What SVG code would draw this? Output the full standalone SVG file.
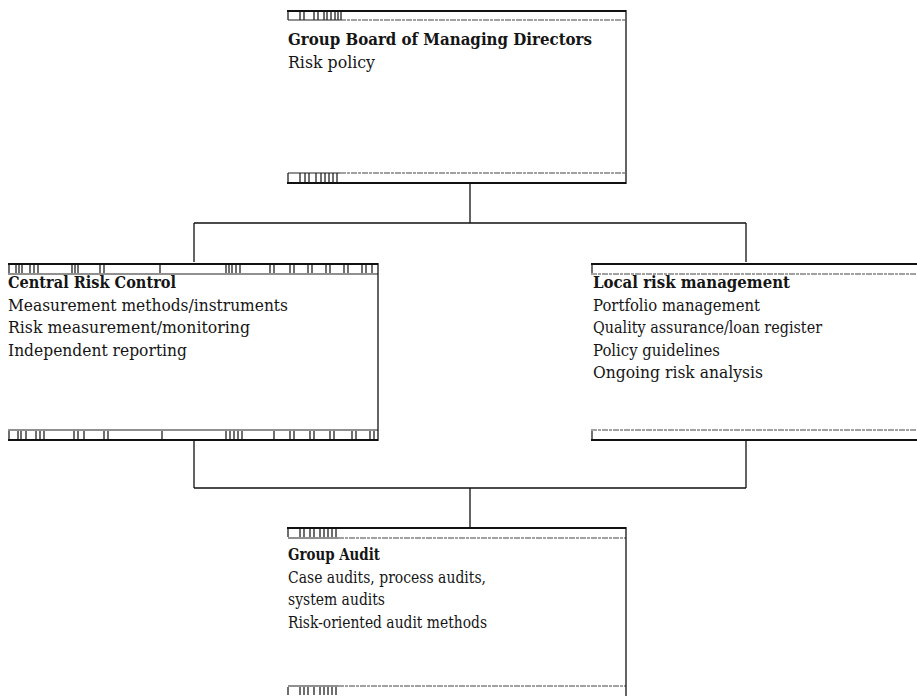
<svg xmlns="http://www.w3.org/2000/svg" width="917" height="696" viewBox="0 0 917 696">
<style>
  text { font-family: "DejaVu Serif", "Liberation Serif", serif; font-size: 16.5px; fill: #151515; }
  .t { font-weight: bold; }
  .thick { stroke: #111; stroke-width: 2; fill: none; }
  .thin { stroke: #444; stroke-width: 1; fill: none; stroke-dasharray: 6 1 3 1; }
  .cellbase { stroke: #222; stroke-width: 1.2; fill: none; }
  .cells { stroke: #222; stroke-width: 1.3; fill: none; }
  .border { stroke: #111; stroke-width: 1.3; fill: none; }
  .conn { stroke: #111; stroke-width: 1.3; fill: none; }
</style>
<rect width="917" height="696" fill="#fff"/>

<g id="connectors">
  <path class="conn" d="M470 184 V223 M194 223 H746 M194 223 V262 M746 223 V262"/>
  <path class="conn" d="M194 440 V488 M746 440 V488 M194 488 H746 M470 488 V527"/>
</g>

<g id="board">
  <path class="thick" d="M287 11 H626"/>
  <path class="thin" d="M340 20 H626"/>
  <path class="cellbase" d="M288 20 H340"/>
  <path class="cells" d="M288 12 V20 M300 12 V20 M304 12 V20 M314 12 V20 M318 12 V20 M324 12 V20 M327 12 V20 M331 12 V20 M335 12 V20 M338 12 V20 M341 12 V20"/>
  <path class="thin" d="M340 173 H626"/>
  <path class="cellbase" d="M288 173 H340"/>
  <path class="thick" d="M287 183 H626"/>
  <path class="cells" d="M288 173 V182 M300 173 V182 M305 173 V182 M309 173 V182 M316 173 V182 M321 173 V182 M325 173 V182 M329 173 V182 M333 173 V182 M337 173 V182"/>
  <path class="border" d="M626 10 V184"/>
  <text class="t" x="288" y="45" textLength="304" lengthAdjust="spacingAndGlyphs">Group Board of Managing Directors</text>
  <text x="288" y="68" textLength="87" lengthAdjust="spacingAndGlyphs">Risk policy</text>
</g>

<g id="central">
  <path class="thick" d="M8 264 H378"/>
  <path class="cellbase" d="M8 274 H378"/>
  <path class="cells" d="M9 265 V273 M16 265 V273 M19 265 V273 M22 265 V273 M30 265 V273 M34 265 V273 M38 265 V273 M72 265 V273 M75 265 V273 M78 265 V273 M100 265 V273 M104 265 V273 M160 265 V273 M226 265 V273 M229 265 V273 M232 265 V273 M236 265 V273 M240 265 V273 M270 265 V273 M274 265 V273 M290 265 V273 M294 265 V273 M308 265 V273 M312 265 V273 M326 265 V273 M330 265 V273 M344 265 V273 M348 265 V273 M362 265 V273 M366 265 V273 M372 265 V273"/>
  <path class="cellbase" d="M8 430 H378"/>
  <path class="thick" d="M8 440 H378"/>
  <path class="cells" d="M9 431 V439 M18 431 V439 M21 431 V439 M26 431 V439 M36 431 V439 M40 431 V439 M44 431 V439 M74 431 V439 M78 431 V439 M84 431 V439 M104 431 V439 M108 431 V439 M162 431 V439 M226 431 V439 M230 431 V439 M234 431 V439 M238 431 V439 M242 431 V439 M274 431 V439 M290 431 V439 M294 431 V439 M310 431 V439 M314 431 V439 M330 431 V439 M334 431 V439 M352 431 V439 M356 431 V439 M370 431 V439 M374 431 V439"/>
  <path class="border" d="M378 263 V441"/>
  <text class="t" x="8" y="288" textLength="168" lengthAdjust="spacingAndGlyphs">Central Risk Control</text>
  <text x="8" y="311" textLength="280" lengthAdjust="spacingAndGlyphs">Measurement methods/instruments</text>
  <text x="8" y="333" textLength="242" lengthAdjust="spacingAndGlyphs">Risk measurement/monitoring</text>
  <text x="8" y="356" textLength="179" lengthAdjust="spacingAndGlyphs">Independent reporting</text>
</g>

<g id="local">
  <path class="thick" d="M591 264 H917"/>
  <path class="thin" d="M591 274 H917"/>
  <path class="cells" d="M592 265 V273"/>
  <path class="thin" d="M591 430 H917"/>
  <path class="thick" d="M591 440 H917"/>
  <path class="cells" d="M592 431 V439"/>
  <text class="t" x="593" y="288" textLength="197" lengthAdjust="spacingAndGlyphs">Local risk management</text>
  <text x="593" y="311" textLength="167" lengthAdjust="spacingAndGlyphs">Portfolio management</text>
  <text x="593" y="333" textLength="229" lengthAdjust="spacingAndGlyphs">Quality assurance/loan register</text>
  <text x="593" y="356" textLength="127" lengthAdjust="spacingAndGlyphs">Policy guidelines</text>
  <text x="593" y="378" textLength="170" lengthAdjust="spacingAndGlyphs">Ongoing risk analysis</text>
</g>

<g id="audit">
  <path class="thick" d="M287 528 H626"/>
  <path class="thin" d="M338 538 H626"/>
  <path class="cellbase" d="M288 538 H338"/>
  <path class="cells" d="M288 529 V537 M300 529 V537 M304 529 V537 M310 529 V537 M314 529 V537 M320 529 V537 M324 529 V537 M328 529 V537 M332 529 V537 M336 529 V537"/>
  <path class="thin" d="M338 686 H626"/>
  <path class="cellbase" d="M288 686 H338"/>
  <path class="cells" d="M288 687 V695 M300 687 V695 M304 687 V695 M308 687 V695 M314 687 V695 M320 687 V695 M324 687 V695 M328 687 V695 M332 687 V695 M336 687 V695"/>
  <path class="border" d="M626 527 V696"/>
  <text class="t" x="288" y="560" textLength="92" lengthAdjust="spacingAndGlyphs">Group Audit</text>
  <text x="288" y="583" textLength="198" lengthAdjust="spacingAndGlyphs">Case audits, process audits,</text>
  <text x="288" y="605" textLength="97" lengthAdjust="spacingAndGlyphs">system audits</text>
  <text x="288" y="628" textLength="199" lengthAdjust="spacingAndGlyphs">Risk-oriented audit methods</text>
</g>
</svg>
